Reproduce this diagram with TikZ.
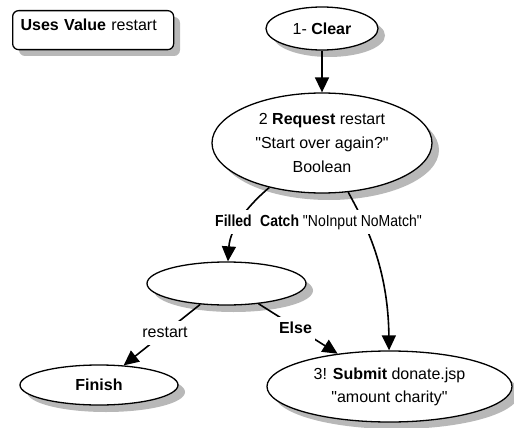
\documentclass[tikz,border=0pt]{standalone}
\usepackage{fontspec}
\setmainfont{Liberation Sans}[Ligatures=TeXOff]
\newfontfamily\narrowsans{Liberation Sans}[Ligatures=TeXOff,FakeStretch=0.875]
\usetikzlibrary{shapes.geometric,arrows.meta}
\begin{document}
\begin{tikzpicture}[x=1pt,y=-1pt,
  every node/.style={font=\fontsize{16pt}{24pt}\selectfont},
  castshadow/.style={fill=black!28, draw=none},
  state/.style={ellipse, draw, line width=1.3pt, fill=white, inner sep=0pt, align=center},
  flow/.style={line width=1.6pt, -{Triangle[length=15pt,width=14pt]}},
  lbl/.style={fill=white, inner xsep=3pt, inner ysep=4pt, text height=12pt, text depth=4pt, anchor=base}]
\path[use as bounding box] (0,0) rectangle (514,428);

% drop shadows, offset 7pt right and down
\fill[castshadow] (19,17) [rounded corners=6pt] rectangle (180,56);
\fill[castshadow] (329,35.5) ellipse (56 and 21.5);
\fill[castshadow] (329,150) ellipse (110 and 50);
\fill[castshadow] (233.5,290.5) ellipse (79.5 and 21.5);
\fill[castshadow] (106,392) ellipse (79 and 20);
\fill[castshadow] (396.5,393.5) ellipse (122.5 and 35.5);

% value box
\node[draw, line width=1.3pt, rounded corners=6pt, fill=white,
      anchor=north west, inner xsep=8pt, inner ysep=4pt, text width=145pt,
      align=left, text height=16pt, text depth=15pt] (uv) at (12,10)
      {\textbf{Uses Value} restart};

% states
\node[state, minimum width=112pt, minimum height=43pt] (clr) at (322,28.5) {1- \textbf{Clear}};
\node[state, minimum width=220pt, minimum height=100pt] (req) at (322,143)
      {2 \textbf{Request} restart\\"Start over again?"\\Boolean};
\node[state, minimum width=159pt, minimum height=43pt] (mid) at (226.5,283.5) {};
\node[state, minimum width=158pt, minimum height=40pt] (fin) at (99,385) {\textbf{Finish}};
\node[state, minimum width=245pt, minimum height=71pt,
      font=\fontsize{16pt}{23pt}\selectfont] (sub) at (389.5,386.5)
      {3! \textbf{Submit} donate.jsp\\"amount charity"};

% transitions
\draw[flow] (clr) -- (req);
\draw[flow] (req) .. controls (245,208) and (230,230) .. (mid);
\draw[flow] (req) .. controls (362,218) and (388,262) .. (sub);
\draw[flow] (mid) -- (fin);
\draw[flow] (mid) -- (sub);

% transition labels
\node[lbl, font=\fontsize{16pt}{24pt}\narrowsans] (lfill) at (233.5,226) {\textbf{Filled}};
\node[lbl, font=\fontsize{16pt}{24pt}\narrowsans] (lcatch) at (341,226) {\textbf{Catch} "NoInput NoMatch"};
\node[lbl] (lrst) at (165,337) {restart};
\node[lbl] (lelse) at (295.5,333) {\textbf{Else}};
\end{tikzpicture}
\end{document}
